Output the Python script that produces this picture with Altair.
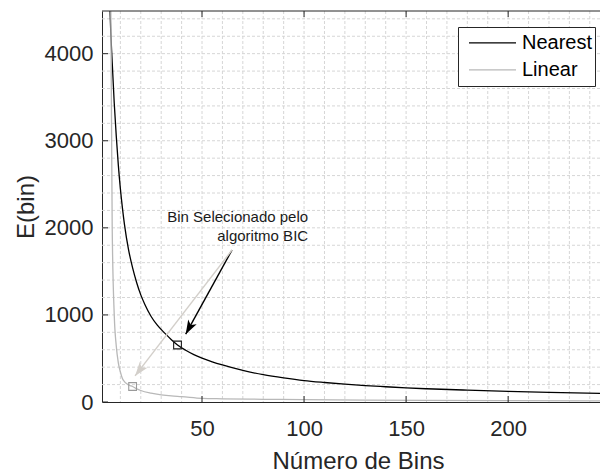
import math
import altair as alt
import pandas as pd

FONT = "Liberation Sans"
DARK = "#262626"
GRID = "#d6d6d6"

# ---- data ----
SERIES = ["Nearest", "Linear"]
SERIES_COLORS = ["#000000", "#b8b8b8"]

NEAREST_X = [2, 3, 4, 5, 6, 7, 8, 9, 10, 11, 12, 14, 16, 18, 20, 22, 25, 28, 32, 35, 38,
             42, 46, 50, 55, 60, 70, 80, 90, 100, 110, 120, 130, 140, 150, 160, 180, 200, 220, 245]
NEAREST_Y = [11000, 7400, 5600, 4450, 3900, 3430, 3050, 2720, 2450, 2230, 2040, 1750, 1540, 1370,
             1230, 1120, 985, 885, 785, 715, 655, 595, 545, 505, 462, 425, 362, 314, 277, 246,
             224, 205, 189, 175, 162, 152, 136, 121, 110, 100]

LINEAR_X = [2, 3, 4, 5, 6, 7, 8, 9, 10, 11, 12, 13, 14, 16, 18, 20, 25, 30, 35, 40, 50, 60,
            80, 100, 130, 160, 200, 245]
LINEAR_Y = [16000, 11000, 8000, 5800, 2000, 1000, 640, 450, 345, 270, 235, 212, 195, 178, 152,
            132, 102, 83, 70, 62, 42, 37, 31, 27, 22, 18, 15, 12]

SEL_X = [38, 16]
SEL_Y = [655, 178]
SEL_COLORS = ["#1a1a1a", "#9a9a9a"]

ARROW_X0 = [64.7, 64.7]
ARROW_Y0 = [1745, 1745]
ARROW_X1 = [42.0, 17.2]
ARROW_Y1 = [779, 300]
ARROW_COLORS = ["#000000", "#d3cfca"]

NOTE_LINES = ["Bin Selecionado pelo", "algoritmo BIC"]
NOTE_X = [102, 102]
NOTE_Y = [2064, 1849]

X_TICKS = [50, 100, 150, 200]
Y_TICKS = [0, 1000, 2000, 3000, 4000]
X_GRID = [10, 20, 30, 40, 50, 60, 70, 80, 90, 100, 110, 120, 130, 140, 150, 160, 170, 180,
          190, 200, 210, 220, 230, 240]
Y_GRID = [200, 400, 600, 800, 1000, 1200, 1400, 1600, 1800, 2000, 2200, 2400, 2600, 2800,
          3000, 3200, 3400, 3600, 3800, 4000, 4200, 4400]

X_MIN, X_MAX = 1, 245
Y_MIN, Y_MAX = 0, 4490

WIDTH, HEIGHT = 498, 391

# ---- tables ----
df_lines = pd.concat([
    pd.DataFrame({"x": NEAREST_X, "y": NEAREST_Y, "series": "Nearest"}),
    pd.DataFrame({"x": LINEAR_X, "y": LINEAR_Y, "series": "Linear"}),
])
df_sel = pd.DataFrame({"x": SEL_X, "y": SEL_Y, "c": SEL_COLORS})

px_x = WIDTH / (X_MAX - X_MIN)
px_y = HEIGHT / (Y_MAX - Y_MIN)
angles = []
for x0, y0, x1, y1 in zip(ARROW_X0, ARROW_Y0, ARROW_X1, ARROW_Y1):
    dx = (x1 - x0) * px_x
    dy = -(y1 - y0) * px_y
    angles.append(math.degrees(math.atan2(dx, -dy)) % 360)
df_arrow = pd.DataFrame({"x": ARROW_X0, "y": ARROW_Y0, "x2": ARROW_X1, "y2": ARROW_Y1,
                         "c": ARROW_COLORS, "ang": angles})
df_note = pd.DataFrame({"x": NOTE_X, "y": NOTE_Y, "t": NOTE_LINES})

x_axis = alt.Axis(
    values=X_TICKS, grid=False,
    ticks=False, tickSize=0, domain=True, domainColor=DARK, domainWidth=1,
    labelFont=FONT, labelFontSize=22, labelColor=DARK, labelPadding=33,
    labelBaseline="alphabetic", labelOverlap=False, labelFlush=False,
    title="Número de Bins", titleFont=FONT, titleFontSize=24, titleFontWeight="normal",
    titleColor=DARK, titleX=256, titleY=66, titleBaseline="alphabetic", titleAnchor="middle",
)
y_axis = alt.Axis(
    values=Y_TICKS, format="d", grid=False,
    ticks=False, tickSize=0, domain=True, domainColor=DARK, domainWidth=1,
    labelFont=FONT, labelFontSize=22, labelColor=DARK, labelPadding=9,
    labelBaseline="middle", labelOverlap=False, labelFlush=False,
    title="E(bin)", titleFont=FONT, titleFontSize=24, titleFontWeight="normal",
    titleColor=DARK, titleX=-69, titleY=HEIGHT / 2, titleAngle=270,
    titleBaseline="alphabetic", titleAlign="center",
)
x_scale = alt.Scale(domain=[X_MIN, X_MAX], nice=False, zero=False)
y_scale = alt.Scale(domain=[Y_MIN, Y_MAX], nice=False, zero=False)


def X(field="x"):
    return alt.X(f"{field}:Q", scale=x_scale, axis=x_axis)


def Y(field="y"):
    return alt.Y(f"{field}:Q", scale=y_scale, axis=y_axis)


grid_v = alt.Chart(pd.DataFrame({"x": X_GRID})).mark_rule(
    color=GRID, strokeWidth=1, strokeDash=[3, 2]).encode(x=X())
grid_h = alt.Chart(pd.DataFrame({"y": Y_GRID})).mark_rule(
    color=GRID, strokeWidth=1, strokeDash=[3, 2]).encode(y=Y())

lines = alt.Chart(df_lines).mark_line(clip=True, strokeWidth=1.3, interpolate="monotone").encode(
    x=X(), y=Y(),
    color=alt.Color("series:N", sort=SERIES,
                    scale=alt.Scale(domain=SERIES, range=SERIES_COLORS),
                    legend=alt.Legend(
                        title=None, orient="none", legendX=356, legendY=16,
                        symbolType="stroke", symbolSize=2209, symbolStrokeWidth=1.3,
                        labelFont=FONT, labelFontSize=20, labelColor="#000000",
                        padding=2.5, clipHeight=26.7, rowPadding=0,
                        symbolOffset=7.5, labelOffset=5,
                        strokeColor=DARK, fillColor="#ffffff")),
    detail="series:N",
)

markers = alt.Chart(df_sel).mark_point(shape="square", filled=False, size=60, strokeWidth=1.1,
                                       opacity=1).encode(
    x=X(), y=Y(), stroke=alt.Stroke("c:N", scale=None))

arrows = alt.Chart(df_arrow).mark_rule(strokeWidth=1.4).encode(
    x=X(), y=Y(), x2="x2:Q", y2="y2:Q", stroke=alt.Stroke("c:N", scale=None))

ARROW_PATH = "M0,0 L0.48,1.4 L0,1.05 L-0.48,1.4 Z"
heads = alt.Chart(df_arrow).mark_point(shape=ARROW_PATH, filled=True, size=400, strokeWidth=0,
                                       opacity=1).encode(
    x=X("x2"), y=Y("y2"), fill=alt.Fill("c:N", scale=None), angle=alt.Angle("ang:Q", scale=None))

note = alt.Chart(df_note).mark_text(align="right", baseline="alphabetic", fontSize=15, font=FONT,
                                    color="#1a1a1a").encode(x=X(), y=Y(), text="t:N")

xticks_bottom = alt.Chart(pd.DataFrame({"x": X_TICKS})).mark_tick(
    orient="vertical", size=12, thickness=1, color=DARK, clip=True, opacity=1).encode(
    x=X(), y=alt.datum(Y_MIN))
xticks_top = alt.Chart(pd.DataFrame({"x": X_TICKS})).mark_tick(
    orient="vertical", size=12, thickness=1, color=DARK, clip=True, opacity=1).encode(
    x=X(), y=alt.datum(Y_MAX))
yticks = alt.Chart(pd.DataFrame({"y": Y_TICKS})).mark_tick(
    orient="horizontal", size=12, thickness=1, color=DARK, clip=True, opacity=1).encode(
    y=Y(), x=alt.datum(X_MIN))
top_border = alt.Chart(pd.DataFrame({"y": [Y_MAX]})).mark_rule(color=DARK, strokeWidth=1).encode(
    y=Y())

chart = alt.layer(
    grid_v, grid_h, lines, arrows, heads, markers, note,
    xticks_bottom, xticks_top, yticks, top_border
).properties(
    width=WIDTH, height=HEIGHT,
    padding={"left": 102, "top": 11, "right": 0, "bottom": 70},
    autosize=alt.AutoSizeParams(type="none"),
    background="#ffffff",
).configure_view(stroke=None)

chart.save("out.html", embed_options={"renderer": "svg", "actions": False})
